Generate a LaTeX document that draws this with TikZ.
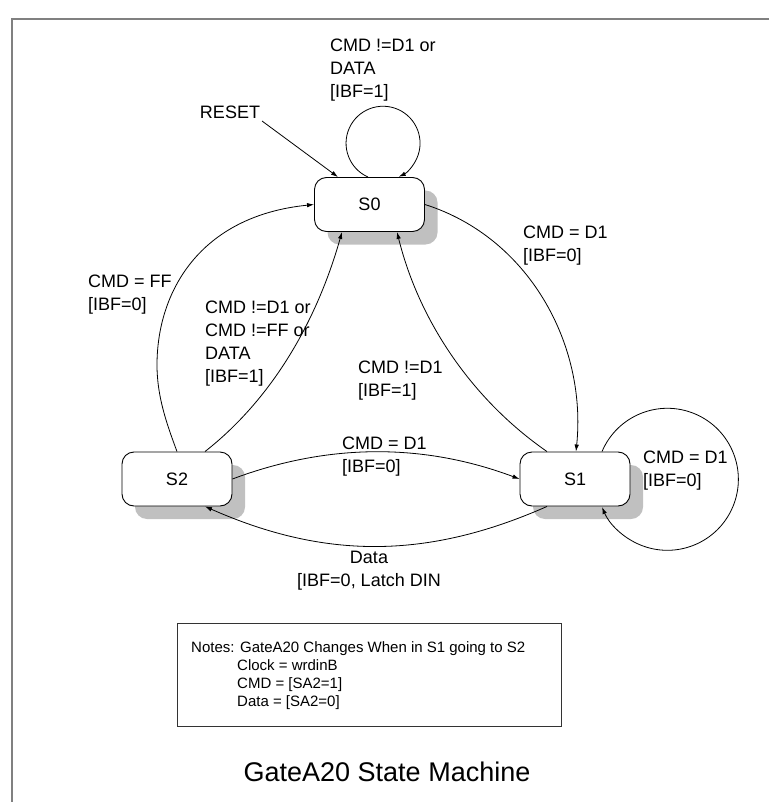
\documentclass[tikz,border=0pt]{standalone}
\usepackage{fontspec}
\setmainfont{Liberation Sans}
\usetikzlibrary{arrows.meta,shadows,calc}
\definecolor{shadowgray}{HTML}{C0C0C0}
\definecolor{framegray}{HTML}{808080}
\begin{document}
\begin{tikzpicture}[x=1pt,y=-1pt,
  state/.style={draw=black, line width=0.9pt, fill=white, rounded corners=12pt,
    minimum width=110pt, minimum height=54pt, inner sep=0pt,
    font=\fontsize{18}{23}\selectfont,
    drop shadow={shadow xshift=13pt, shadow yshift=-13pt, fill=shadowgray, opacity=1}},
  lbl/.style={align=left, inner sep=0pt, anchor=north west, font=\fontsize{18}{23}\selectfont},
  conn/.style={draw=black, line width=0.8pt, -{Latex[length=7pt,width=4.5pt]}},
]
\useasboundingbox (0,0) rectangle (769,802);
\draw[framegray, line width=2pt] (769,19) -- (12,19) -- (12,802);

% states
\node[state] (S0) at (369.5,204.5) {S0};
\node[state] (S1) at (575,479) {S1};
\node[state] (S2) at (177,479) {S2};

% reset
\coordinate (rs) at (262,121);
\node[inner sep=0pt, font=\fontsize{18}{23}\selectfont] (resetlbl) at (230,112) {RESET};
\draw[conn] (rs) -- ([xshift=-31.5pt]S0.north);

% S0 self loop
\draw[conn] ([xshift=-1.5pt]S0.north) arc[start angle=246, end angle=-65, radius=37pt];
\node[lbl] (l0) at (330,38.5) {CMD !=D1 or\\DATA\\{}[IBF=1]};

% S0 -> S1
\draw[conn] (S0.east) .. controls +(104,33) and +(11,-107) .. ([xshift=1pt]S1.north);
\node[lbl] (l1) at (523,225.5) {CMD = D1\\{}[IBF=0]};

% S1 -> S0
\draw[conn] ([xshift=-28pt]S1.north) .. controls +(-75,-52) and +(22,89) .. ([xshift=27.5pt]S0.south);
\node[lbl] (l2) at (358,360.5) {CMD !=D1\\{}[IBF=1]};

% S2 -> S0 (FF)
\coordinate (ffmid) at (157,365);
\draw[conn] (S2.north) .. controls +(-10,-27) and +(0,32) .. (ffmid)
  .. controls +(0,-73) and +(-114.5,11.5) .. (S0.west);
\node[lbl] (l3) at (88,274.5) {CMD = FF\\{}[IBF=0]};

% S2 -> S0 (other)
\draw[conn] ([xshift=28pt]S2.north) .. controls +(70,-55) and +(-24,85) .. ([xshift=-27.5pt]S0.south);
\node[lbl] (l4) at (205,300.5) {CMD !=D1 or\\CMD !=FF or\\DATA\\{}[IBF=1]};

% S2 -> S1
\draw[conn] (S2.east) .. controls +(96,-36) and +(-96,-36) .. (S1.west);
\node[lbl] (l5) at (342,436.5) {CMD = D1\\{}[IBF=0]};

% S1 -> S2
\draw[conn] ([xshift=-28pt]S1.south) .. controls +(-120,53) and +(120,53) .. ([xshift=28pt]S2.south);
\node[inner sep=0pt, anchor=north, align=center, font=\fontsize{18}{23}\selectfont] (l6) at (369,550.5) {Data\\{}[IBF=0, Latch DIN};

% S1 self loop
\draw[conn] ([xshift=27pt]S1.north) arc[start angle=157, end angle=-157, radius=71pt];
\node[lbl] (l7) at (643,450.5) {CMD = D1\\{}[IBF=0]};

% notes
\node[draw=black!80, line width=0.9pt, minimum width=384pt, minimum height=103pt, inner sep=0pt] (notesbox) at (369,674.5) {};
\node[anchor=north west, inner sep=0pt, align=left, font=\fontsize{15}{18}\selectfont] (notes) at (191,641.5)
  {Notes: GateA20 Changes When in S1 going to S2\\\hspace*{46pt}Clock = wrdinB\\\hspace*{46pt}CMD = [SA2=1]\\\hspace*{46pt}Data = [SA2=0]};

% title
\node[inner sep=0pt, font=\fontsize{27}{32}\selectfont] (title) at (387,772) {GateA20 State Machine};
\end{tikzpicture}
\end{document}
